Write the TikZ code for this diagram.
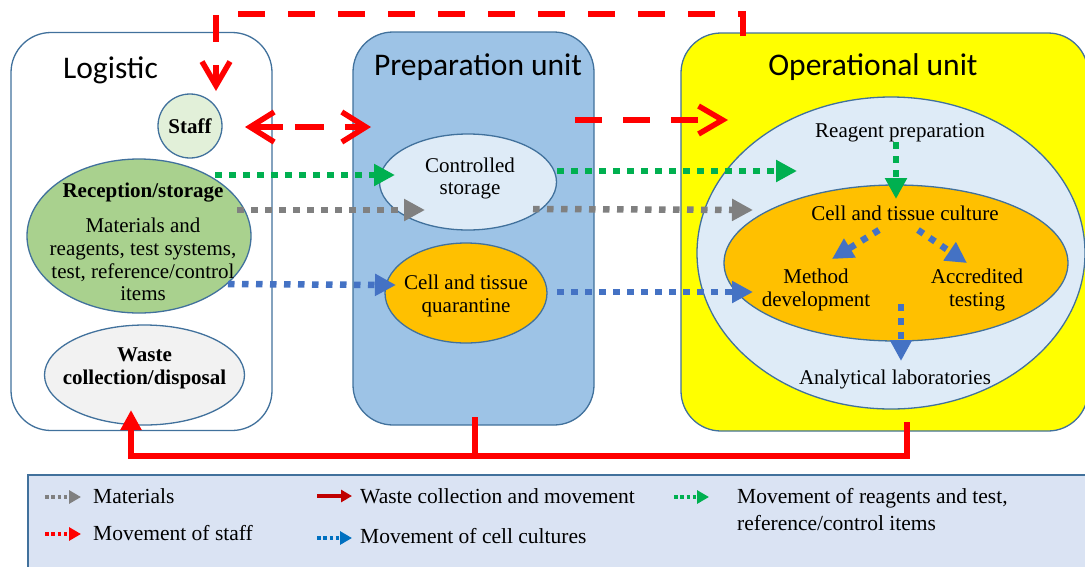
\documentclass[tikz,border=0pt]{standalone}
\usepackage{fontspec}
\setmainfont{Liberation Serif}
\newfontfamily\calibrifont{Carlito}
\usetikzlibrary{shapes.geometric,arrows.meta}
\definecolor{bord}{HTML}{41719C}
\definecolor{prepfill}{HTML}{9DC3E6}
\definecolor{opfill}{HTML}{FFFF00}
\definecolor{lightbl}{HTML}{DEEBF7}
\definecolor{orng}{HTML}{FFC000}
\definecolor{greenfill}{HTML}{A9D18E}
\definecolor{stafffill}{HTML}{E2F0D9}
\definecolor{wastefill}{HTML}{F2F2F2}
\definecolor{legfill}{HTML}{DAE3F3}
\definecolor{rred}{HTML}{FF0000}
\definecolor{dred}{HTML}{C00000}
\definecolor{bdot}{HTML}{4472C4}
\definecolor{gdot}{HTML}{808080}
\definecolor{grdot}{HTML}{00B050}
\definecolor{ldot}{HTML}{0070C0}
\tikzset{
  box/.style={draw=bord, line width=1.3pt, rounded corners=40pt, inner sep=0pt},
  ell/.style={ellipse, draw=bord, line width=1.3pt, inner sep=0pt},
  circ/.style={circle, draw=bord, line width=1.3pt, inner sep=0pt},
  txt/.style={font=\fontsize{21}{22.7}\selectfont, align=center, inner sep=0pt},
  btxt/.style={font=\bfseries\fontsize{21}{23}\selectfont, align=center, inner sep=0pt},
  ttl/.style={font=\calibrifont\fontsize{31.5}{36}\selectfont, inner sep=0pt, anchor=base},
  legtxt/.style={font=\fontsize{21.5}{27}\selectfont, inner sep=0pt, anchor=base west, align=left},
  dotarrow/.style={line width=6.5pt, line cap=butt, dash pattern=on 6.5pt off 7.5pt, -{Triangle[length=21pt,width=21pt]}},
  legdot/.style={line width=3.5pt, line cap=butt, dash pattern=on 3.5pt off 2.8pt, -{Triangle[length=12pt,width=13pt]}},
  reddash/.style={draw=rred, line width=5.5pt, dash pattern=on 27pt off 23pt, line join=miter,
     -{Straight Barb[length=24pt,width=28pt]}},
  redsolid/.style={draw=rred, line width=6pt, line join=miter},
}
\begin{document}
\begin{tikzpicture}[x=1pt,y=-1pt]
\useasboundingbox (0,0) rectangle (1085,566);
% units
\node[box, fill=white, minimum width=261pt, minimum height=398pt] (logi) at (141.5,231.5) {};
\node[box, fill=prepfill, minimum width=241pt, minimum height=393pt] (prep) at (473.5,228.5) {};
\node[box, fill=opfill, minimum width=407pt, minimum height=398pt] (oper) at (884.5,232) {};
\node[ttl] (tlog) at (110.5,78) {Logistic};
\node[ttl] (tprep) at (478,75) {Preparation unit};
\node[ttl] (toper) at (873,75) {Operational unit};
% logistic shapes
\node[circ, fill=stafffill, minimum size=64pt] (staff) at (190,126) {};
\node[btxt] (stafft) at (190,126) {Staff};
\node[ell, fill=greenfill, minimum width=224pt, minimum height=154pt] (recep) at (139,236) {};
\node[btxt] (recept) at (143,193) {Reception/storage};
\node[txt] (recepb) at (143,259.5) {Materials and\\reagents, test systems,\\test, reference/control\\items};
\node[ell, fill=wastefill, minimum width=200pt, minimum height=100pt] (waste) at (144.5,375) {};
\node[btxt] (wastet) at (144.5,368.5) {Waste\\collection/disposal};
% preparation shapes
\node[ell, fill=lightbl, minimum width=177pt, minimum height=96pt] (cstor) at (468,182) {};
\node[txt] (cstort) at (470,178.5) {Controlled\\storage};
\node[ell, fill=orng, minimum width=162pt, minimum height=100pt] (quar) at (466,293) {};
\node[txt] (quart) at (466,296) {Cell and tissue\\quarantine};
% operational shapes
\node[ell, fill=lightbl, minimum width=388pt, minimum height=312pt] (outer) at (891,253) {};
\node[ell, fill=orng, minimum width=344pt, minimum height=156pt] (inner) at (896,263) {};
\node[txt] (reag) at (900,133) {Reagent preparation};
\node[txt] (cult) at (905,213) {Cell and tissue culture};
\node[txt] (meth) at (816,290) {Method\\development};
\node[txt] (accr) at (977,290) {Accredited\\testing};
\node[txt] (anal) at (895,379) {Analytical laboratories};
% coordinates for connectors
\coordinate (g1a) at (215,175); \coordinate (g1b) at (395,175);
\coordinate (m1a) at (237,210); \coordinate (m1b) at (425,210);
\coordinate (b1a) at (228,284); \coordinate (b1b) at (396,285);
\coordinate (g2a) at (557,171); \coordinate (g2b) at (797,171);
\coordinate (m2a) at (533,209); \coordinate (m2b) at (753,210);
\coordinate (b2a) at (557,292); \coordinate (b2b) at (753,292);
\coordinate (g3a) at (896,142); \coordinate (g3b) at (896,199);
\coordinate (b3a) at (879,230); \coordinate (b3b) at (832,259);
\coordinate (b4a) at (918,230); \coordinate (b4b) at (967,263);
\coordinate (b5a) at (901,304); \coordinate (b5b) at (901,361);
% dotted arrows
\draw[dotarrow, grdot] (g1a) -- (g1b);
\draw[dotarrow, gdot] (m1a) -- (m1b);
\draw[dotarrow, bdot] (b1a) -- (b1b);
\draw[dotarrow, grdot] (g2a) -- (g2b);
\draw[dotarrow, gdot] (m2a) -- (m2b);
\draw[dotarrow, bdot] (b2a) -- (b2b);
\draw[dotarrow, grdot] (g3a) -- (g3b);
\draw[dotarrow, bdot] (b3a) -- (b3b);
\draw[dotarrow, bdot] (b4a) -- (b4b);
\draw[dotarrow, bdot] (b5a) -- (b5b);
% staff movement
\coordinate (r1) at (743,37); \coordinate (r2) at (216,14); \coordinate (r3) at (216,91);
\draw[reddash, dash phase=49pt] (r1) |- (r2) -- (r3);
\coordinate (s1) at (245,127); \coordinate (s2) at (371,127);
\draw[reddash, {Straight Barb[length=24pt,width=30pt]}-{Straight Barb[length=24pt,width=30pt]}, dash pattern=on 30pt off 12pt on 29pt off 21pt on 40pt off 10pt] (s1) -- (s2);
\coordinate (p1) at (575,120); \coordinate (p2) at (728,120);
\draw[reddash, dash pattern=on 27pt off 21pt] (p1) -- (p2);
% waste
\coordinate (wo) at (907,422); \coordinate (wp) at (475,417); \coordinate (wl) at (131,410);
\coordinate (wb) at (475,456);
\draw[redsolid, -{Triangle[length=20pt,width=20pt]}] (wo) -- ++(0,34) -| (wl);
\draw[redsolid] (wp) -- (wb);
% legend
\node[draw=bord, fill=legfill, line width=1.3pt, minimum width=1062pt, minimum height=95pt, inner sep=0pt] (legend) at (559,522.5) {};
\coordinate (l1a) at (45,497); \coordinate (l1b) at (81,497);
\coordinate (l2a) at (45,534); \coordinate (l2b) at (81,534);
\coordinate (l3a) at (317,496); \coordinate (l3b) at (352,496);
\coordinate (l4a) at (317,538); \coordinate (l4b) at (352,538);
\coordinate (l5a) at (674,497); \coordinate (l5b) at (709,497);
\draw[legdot, gdot] (l1a) -- (l1b);
\draw[legdot, rred] (l2a) -- (l2b);
\draw[dred, line width=4pt, -{Triangle[length=11pt,width=12pt]}] (l3a) -- (l3b);
\draw[legdot, ldot] (l4a) -- (l4b);
\draw[legdot, grdot] (l5a) -- (l5b);
\node[legtxt] (lt1) at (93,503) {Materials};
\node[legtxt] (lt2) at (93,540) {Movement of staff};
\node[legtxt] (lt3) at (360,503) {Waste collection and movement};
\node[legtxt] (lt4) at (360,543) {Movement of cell cultures};
\node[legtxt] (lt5) at (737,503) {Movement of reagents and test,};
\node[legtxt] (lt6) at (737,530) {reference/control items};
\end{tikzpicture}
\end{document}
